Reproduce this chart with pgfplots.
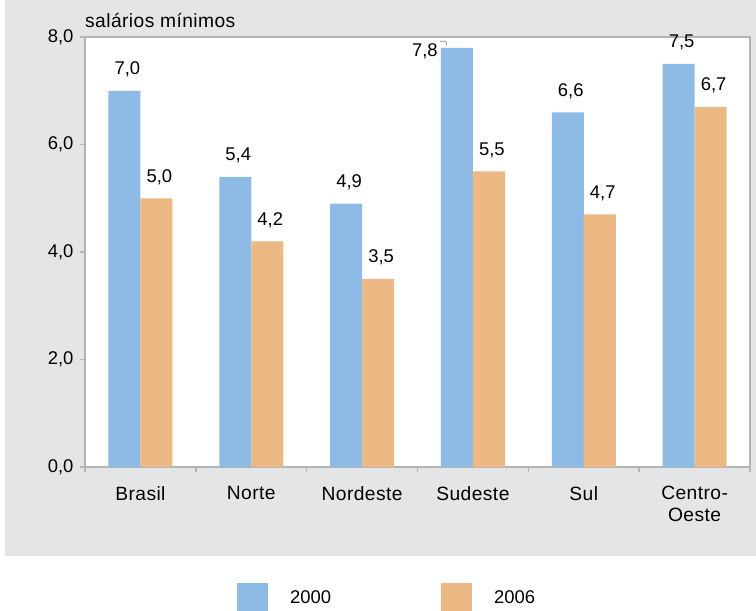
\documentclass[border=0pt]{standalone}
\usepackage{fontspec}
\setmainfont{Liberation Sans}
\newfontfamily\wordfont[LetterSpace=2.2]{Liberation Sans}
\usepackage{pgfplots}
\pgfplotsset{compat=1.18}
\definecolor{barblue}{HTML}{8EBBE5}
\definecolor{barorange}{HTML}{ECB985}
\definecolor{panel}{HTML}{E4E5E7}
\definecolor{axgray}{HTML}{B4B4B4}
\begin{document}
\begin{tikzpicture}[font=\fontsize{18.5}{22}\selectfont]
\useasboundingbox (-85bp,-144bp) rectangle (671bp,467bp);
\fill[panel] (-80bp,-89bp) rectangle (671bp,467bp);
\begin{axis}[
  at={(0,0)}, anchor=south west,
  scale only axis, width=665bp, height=430bp,
  xmin=-0.5, xmax=5.5, ymin=0, ymax=8,
  enlargelimits=false,
  ybar=0pt, bar width=32bp,
  axis background/.style={fill=white, draw=axgray, line width=1.5bp},
  axis lines*=left,
  axis line style={draw=axgray, line width=1.5bp, -},
  tick align=outside, major tick length=5bp,
  tick style={draw=axgray, line width=1.5bp},
  xtick={-0.5,0.5,1.5,2.5,3.5,4.5,5.5},
  x tick label as interval,
  xticklabels={Brasil,Norte,Nordeste,Sudeste,Sul,{Centro-\\Oeste}},
  xticklabel style={font=\fontsize{19.3}{22}\wordfont, align=center, anchor=north, yshift=-14bp, inner sep=0pt},
  ytick={0,2,4,6,8},
  yticklabel style={xshift=-3bp, /pgf/number format/fixed, /pgf/number format/fixed zerofill, /pgf/number format/precision=1, /pgf/number format/use comma, /pgf/number format/assume math mode=true},
  ylabel={salários mínimos},
  every axis y label/.style={at={(axis description cs:0,1)}, anchor=base west, yshift=10bp, inner sep=0pt, font=\fontsize{19.3}{22}\wordfont},
  point meta=explicit symbolic,
  nodes near coords,
  every node near coord/.append style={anchor=base, inner sep=0pt, yshift=16bp, xshift=3bp, text=black},
  legend columns=2,
  legend image code/.code={\fill[#1] (0bp,-16bp) rectangle (31bp,15bp);},
  legend style={at={(axis description cs:0.2286,-0.2698)}, anchor=north west, draw=none, fill=none, inner sep=0pt, outer sep=0pt,
    nodes={inner sep=0pt},
    /tikz/every odd column/.style={column sep=22bp},
    /tikz/every even column/.style={column sep=110bp}},
]
\addplot[fill=barblue, draw=none] coordinates {
  (0,7.0) [{7,0}]
  (1,5.4) [{5,4}]
  (2,4.9) [{4,9}]
  (3,7.8) [{}]
  (4,6.6) [{6,6}]
  (5,7.5) [{7,5}]
};
\addplot[fill=barorange, draw=none] coordinates {
  (0,5.0) [{5,0}]
  (1,4.2) [{4,2}]
  (2,3.5) [{3,5}]
  (3,5.5) [{5,5}]
  (4,4.7) [{4,7}]
  (5,6.7) [{6,7}]
};
\legend{2000,2006}
\node[anchor=base east, inner sep=0pt, xshift=-35bp, yshift=-9bp] at (axis cs:3,7.8) {7,8};
\draw[gray, line width=0.6bp] (axis cs:2.702,7.921) -- (axis cs:2.756,7.921) -- (axis cs:2.765,7.846);
\end{axis}
\end{tikzpicture}
\end{document}
